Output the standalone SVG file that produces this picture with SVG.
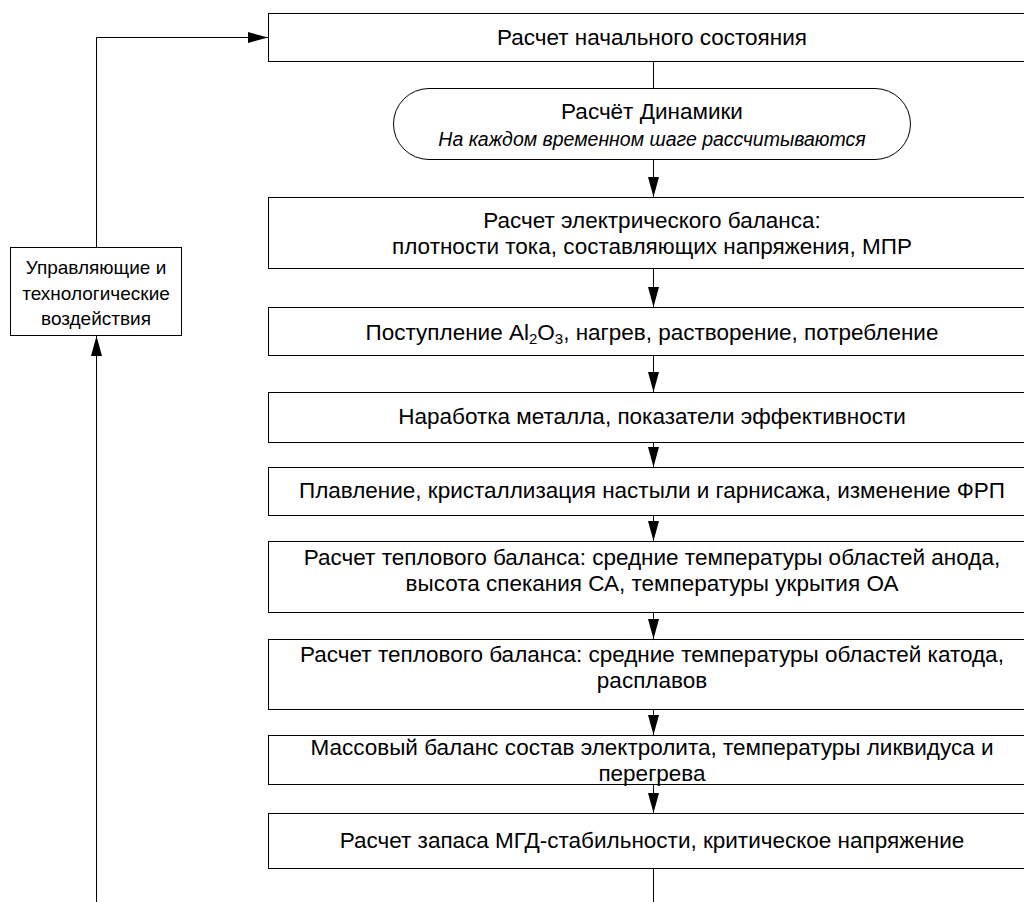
<svg xmlns="http://www.w3.org/2000/svg" width="1024" height="902" viewBox="0 0 1024 902">
<style>
.box{fill:#fff;stroke:#000;stroke-width:1}
.t{font-family:"Liberation Sans",Arial,sans-serif;font-size:22.5px;fill:#000;text-anchor:middle}
.s{font-family:"Liberation Sans",Arial,sans-serif;font-size:19px;fill:#000;text-anchor:middle}
.it{font-family:"Liberation Sans",Arial,sans-serif;font-size:19.5px;font-style:italic;fill:#000;text-anchor:middle}
.c{fill:none;stroke:#000;stroke-width:1}
</style>
<defs>
<marker id="ah" markerWidth="20" markerHeight="11" refX="20" refY="5.5" orient="auto" markerUnits="userSpaceOnUse">
<path d="M0,0 L20,5.5 L0,11 Z" fill="#000"/>
</marker>
</defs>
<rect width="1024" height="902" fill="#fff"/>
<g id="connectors">
<path class="c" d="M96.5,902 V336" marker-end="url(#ah)"/>
<path class="c" d="M96.5,247 V37.5 H268" marker-end="url(#ah)"/>
<path class="c" d="M653.5,61 V88"/>
<path class="c" d="M653.5,159 V197" marker-end="url(#ah)"/>
<path class="c" d="M653.5,268 V307" marker-end="url(#ah)"/>
<path class="c" d="M653.5,355 V392" marker-end="url(#ah)"/>
<path class="c" d="M653.5,442 V467" marker-end="url(#ah)"/>
<path class="c" d="M653.5,515 V541" marker-end="url(#ah)"/>
<path class="c" d="M653.5,612 V639" marker-end="url(#ah)"/>
<path class="c" d="M653.5,709 V735" marker-end="url(#ah)"/>
<path class="c" d="M653.5,770 V813" marker-end="url(#ah)"/>
<path class="c" d="M653.5,868 V902"/>
</g>
<g id="n0">
<rect class="box" x="268.5" y="13.5" width="768" height="48"/>
<text class="t" x="652" y="45">Расчет начального состояния</text>
</g>
<g id="n1">
<rect class="box" x="393.5" y="88.5" width="517" height="71" rx="35.5" ry="35.5"/>
<text class="t" x="652" y="119">Расчёт Динамики</text>
<text class="it" x="652" y="146">На каждом временном шаге рассчитываются</text>
</g>
<g id="n2">
<rect class="box" x="268.5" y="197.5" width="768" height="71"/>
<text class="t" x="652" y="228">Расчет электрического баланса:</text>
<text class="t" x="652" y="254">плотности тока, составляющих напряжения, МПР</text>
</g>
<g id="n3">
<rect class="box" x="268.5" y="307.5" width="768" height="48"/>
<text class="t" x="652" y="340">Поступление Al<tspan font-size="15" dy="4">2</tspan><tspan dy="-4">O</tspan><tspan font-size="15" dy="4">3</tspan><tspan dy="-4">, нагрев, растворение, потребление</tspan></text>
</g>
<g id="n4">
<rect class="box" x="268.5" y="392.5" width="768" height="50"/>
<text class="t" x="652" y="424">Наработка металла, показатели эффективности</text>
</g>
<g id="n5">
<rect class="box" x="268.5" y="467.5" width="768" height="48"/>
<text class="t" x="652" y="498">Плавление, кристаллизация настыли и гарнисажа, изменение ФРП</text>
</g>
<g id="n6">
<rect class="box" x="268.5" y="541.5" width="768" height="71"/>
<text class="t" x="652" y="565">Расчет теплового баланса: средние температуры областей анода,</text>
<text class="t" x="652" y="591">высота спекания СА, температуры укрытия ОА</text>
</g>
<g id="n7">
<rect class="box" x="268.5" y="639.5" width="768" height="70"/>
<text class="t" x="652" y="662">Расчет теплового баланса: средние температуры областей катода,</text>
<text class="t" x="652" y="688">расплавов</text>
</g>
<g id="n8">
<rect class="box" x="268.5" y="735.5" width="768" height="49"/>
<text class="t" x="652" y="755">Массовый баланс состав электролита, температуры ликвидуса и</text>
<text class="t" x="652" y="781">перегрева</text>
</g>
<g id="n9">
<rect class="box" x="268.5" y="813.5" width="768" height="55"/>
<text class="t" x="652" y="848">Расчет запаса МГД-стабильности, критическое напряжение</text>
</g>
<g id="n10">
<rect class="box" x="10.5" y="247.5" width="171" height="88"/>
<text class="s" x="96" y="274">Управляющие и</text>
<text class="s" x="96" y="300">технологические</text>
<text class="s" x="96" y="325">воздействия</text>
</g>
</svg>
